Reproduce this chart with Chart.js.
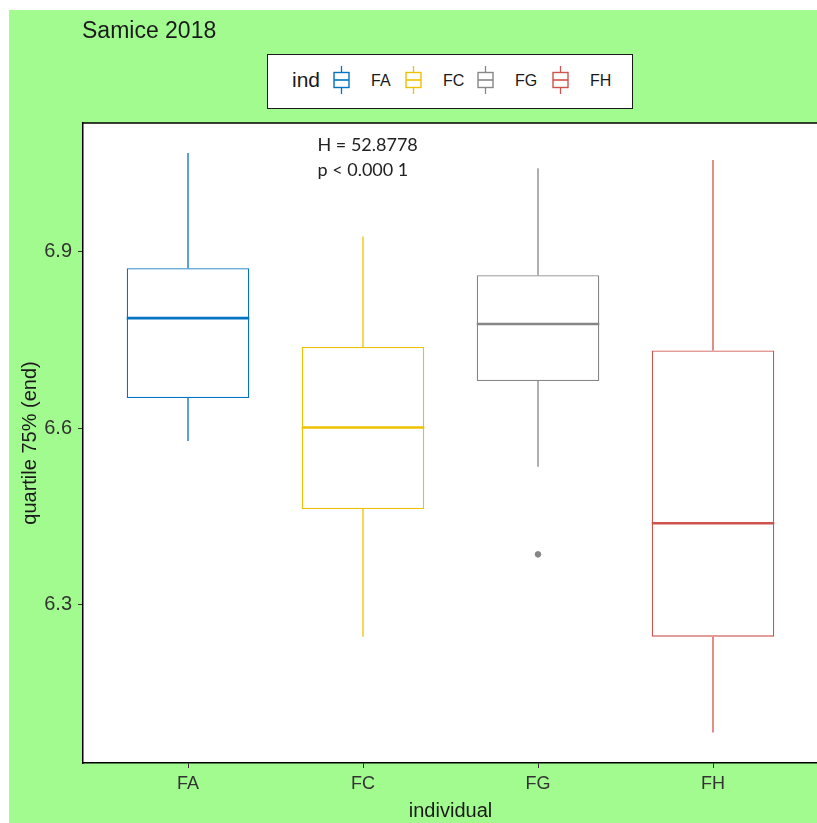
<!DOCTYPE html>
<html>
<head>
<meta charset="utf-8">
<title>Samice 2018</title>
<script src="https://cdn.jsdelivr.net/npm/chart.js@4/dist/chart.umd.min.js"></script>
<style>
  html, body { margin: 0; padding: 0; width: 817px; height: 823px; overflow: hidden; background: #ffffff; }
  #bg { position: absolute; left: 9px; top: 10px; right: 0; bottom: 0; background: #a1fb8e; }
  #wrap { position: absolute; left: 0; top: 0; width: 830px; height: 823px; }
  #title { position: absolute; left: 82px; top: 17px; font: 23px "Liberation Sans", Arial, sans-serif; color: #1a1a1a; }
  #legend { position: absolute; left: 267px; top: 54px; width: 366px; height: 55px; box-sizing: border-box;
            border: 1.5px solid #1a1a1a; background: #ffffff; font-family: "Liberation Sans", Arial, sans-serif; }
  #legend .lt { position: absolute; left: 24px; top: 13px; font-size: 21px; color: #1a1a1a; }
  #legend .key { position: absolute; top: 11px; width: 17px; height: 28px; }
  #legend .key svg { display: block; }
  #legend .lab { position: absolute; top: 17px; font-size: 16px; color: #1a1a1a; }
</style>
</head>
<body>
<div id="bg"></div>
<div id="wrap"><canvas id="boxChart" width="830" height="823"></canvas></div>
<div id="title">Samice 2018</div>
<div id="legend"><span class="lt">ind</span></div>

<script>
// data
const categories = ['FA', 'FC', 'FG', 'FH'];
const whiskerHigh = [7.068, 6.926, 7.042, 7.056];
const upperQuartile = [6.872, 6.738, 6.860, 6.732];
const medians = [6.787, 6.601, 6.777, 6.438];
const lowerQuartile = [6.651, 6.462, 6.680, 6.245];
const whiskerLow = [6.578, 6.245, 6.534, 6.082];
const outlierCategory = ['FG'];
const outlierValues = [6.385];
const yTickValues = [6.3, 6.6, 6.9];
const statLines = ['H = 52.8778', 'p < 0.000 1'];

const colors = ['#0073C2', '#EFC000', '#868686', '#CD534C'];

// legend keys
const legend = document.getElementById('legend');
const keyLeft = [65, 137, 209, 284];
categories.forEach((name, i) => {
    const c = colors[i];
    const key = document.createElement('span');
    key.className = 'key';
    key.style.left = keyLeft[i] + 'px';
    key.innerHTML = '<svg width="17" height="28" viewBox="0 0 17 28">' +
        '<line x1="8.5" y1="0" x2="8.5" y2="6.5" stroke="' + c + '" stroke-width="1.3"/>' +
        '<rect x="1" y="6.5" width="15" height="15" fill="#fff" stroke="' + c + '" stroke-width="1.4"/>' +
        '<line x1="1" y1="14" x2="16" y2="14" stroke="' + c + '" stroke-width="1.6"/>' +
        '<line x1="8.5" y1="21.5" x2="8.5" y2="28" stroke="' + c + '" stroke-width="1.3"/></svg>';
    legend.appendChild(key);
    const lab = document.createElement('span');
    lab.className = 'lab';
    lab.style.left = (keyLeft[i] + 38) + 'px';
    lab.textContent = name;
    legend.appendChild(lab);
});

/**
 * Draws the white panel, whiskers, medians, the top frame line
 * and the Kruskal-Wallis text, all positioned through the scales.
 */
const boxPlotParts = {
    id: 'boxPlotParts',
    beforeDraw(chart) {
        const { ctx, chartArea: a } = chart;
        ctx.save();
        ctx.fillStyle = '#ffffff';
        ctx.fillRect(a.left, a.top, a.right - a.left, a.bottom - a.top);
        ctx.restore();
    },
    beforeDatasetsDraw(chart) {
        const { ctx } = chart;
        const y = chart.scales.y;
        const bars = chart.getDatasetMeta(0).data;
        ctx.save();
        ctx.lineWidth = 1.3;
        bars.forEach((bar, i) => {
            ctx.strokeStyle = colors[i];
            ctx.beginPath();
            ctx.moveTo(bar.x, y.getPixelForValue(upperQuartile[i]));
            ctx.lineTo(bar.x, y.getPixelForValue(whiskerHigh[i]));
            ctx.moveTo(bar.x, y.getPixelForValue(lowerQuartile[i]));
            ctx.lineTo(bar.x, y.getPixelForValue(whiskerLow[i]));
            ctx.stroke();
        });
        ctx.restore();
    },
    afterDatasetsDraw(chart) {
        const { ctx, chartArea: a } = chart;
        const x = chart.scales.x;
        const y = chart.scales.y;
        const bars = chart.getDatasetMeta(0).data;
        ctx.save();
        ctx.lineWidth = 2.6;
        bars.forEach((bar, i) => {
            const py = y.getPixelForValue(medians[i]);
            ctx.strokeStyle = colors[i];
            ctx.beginPath();
            ctx.moveTo(bar.x - bar.width / 2, py);
            ctx.lineTo(bar.x + bar.width / 2, py);
            ctx.stroke();
        });

        // top frame line
        ctx.strokeStyle = '#000000';
        ctx.lineWidth = 1.5;
        ctx.beginPath();
        ctx.moveTo(a.left, a.top);
        ctx.lineTo(a.right, a.top);
        ctx.stroke();

        // test result
        ctx.fillStyle = '#222222';
        ctx.font = '18px Lato, "Open Sans", sans-serif';
        ctx.textAlign = 'left';
        ctx.textBaseline = 'middle';
        const tx = x.getPixelForValue(1.74);
        const ty = y.getPixelForValue(7.082);
        statLines.forEach((t, i) => ctx.fillText(t, tx, ty + i * 25));
        ctx.restore();
    }
};

const ctx = document.getElementById('boxChart').getContext('2d');

new Chart(ctx, {
    type: 'bar',
    data: {
        datasets: [
            {
                label: 'box',
                data: categories.map((c, i) => ({ x: i + 1, y: [lowerQuartile[i], upperQuartile[i]] })),
                backgroundColor: '#ffffff',
                borderColor: colors,
                borderWidth: 1.3,
                borderSkipped: false,
                barPercentage: 0.7,
                categoryPercentage: 1,
                order: 2
            },
            {
                type: 'scatter',
                label: 'outliers',
                data: outlierValues.map((v, i) => ({ x: categories.indexOf(outlierCategory[i]) + 1, y: v })),
                backgroundColor: '#868686',
                borderColor: '#868686',
                pointRadius: 2.8,
                order: 1
            }
        ]
    },
    options: {
        responsive: false,
        animation: false,
        layout: { padding: { top: 123, right: 12, bottom: 0, left: 0 } },
        plugins: {
            legend: { display: false },
            tooltip: { enabled: false }
        },
        scales: {
            x: {
                type: 'linear',
                min: 0.4,
                max: 4.6,
                offset: false,
                afterBuildTicks: (scale) => { scale.ticks = categories.map((c, i) => ({ value: i + 1 })); },
                afterFit: (scale) => { scale.height = 60; },
                ticks: {
                    callback: (v) => categories[v - 1],
                    color: '#333333',
                    padding: 5,
                    maxRotation: 0,
                    font: { family: '"Liberation Sans", Arial, sans-serif', size: 18 }
                },
                grid: { offset: false, drawOnChartArea: false, tickLength: 5, color: '#333333', tickWidth: 1 },
                border: { display: true, color: '#000000', width: 1.5 },
                title: {
                    display: true,
                    text: 'individual',
                    color: '#1a1a1a',
                    padding: { top: 0, bottom: 0 },
                    font: { family: '"Liberation Sans", Arial, sans-serif', size: 20 }
                }
            },
            y: {
                type: 'linear',
                min: 6.03,
                max: 7.119,
                afterBuildTicks: (scale) => { scale.ticks = yTickValues.map(v => ({ value: v })); },
                afterFit: (scale) => { scale.width = 83; },
                ticks: {
                    callback: (v) => v.toFixed(1),
                    color: '#333333',
                    padding: 6,
                    font: { family: '"Liberation Sans", Arial, sans-serif', size: 20 }
                },
                grid: { drawOnChartArea: false, tickLength: 5, color: '#333333', tickWidth: 1 },
                border: { display: true, color: '#000000', width: 1.5 },
                title: {
                    display: true,
                    text: 'quartile 75% (end)',
                    color: '#1a1a1a',
                    padding: { top: 18, bottom: 0 },
                    font: { family: '"Liberation Sans", Arial, sans-serif', size: 20 }
                }
            }
        }
    },
    plugins: [boxPlotParts]
});
</script>
</body>
</html>
